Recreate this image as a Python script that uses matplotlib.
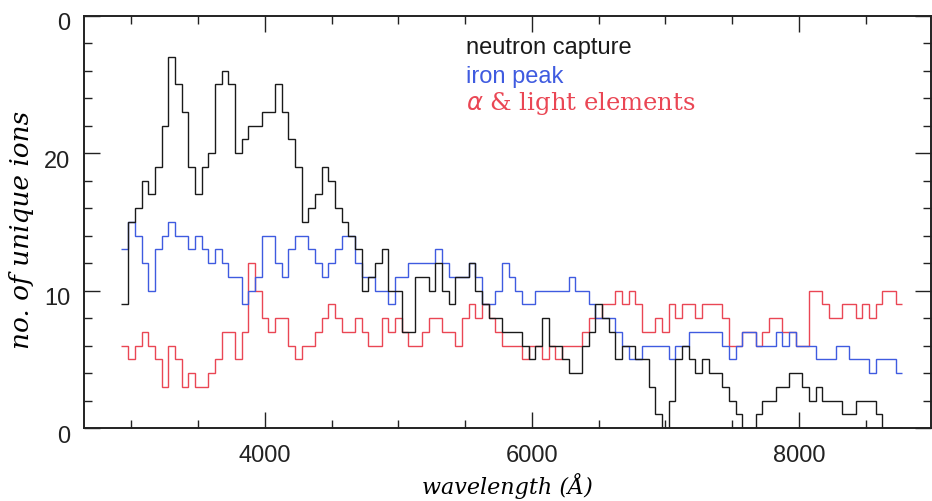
import numpy as np
import matplotlib
matplotlib.use("Agg")
import matplotlib.pyplot as plt
import matplotlib.transforms as mtransforms
from matplotlib.ticker import MultipleLocator, FixedLocator, FixedFormatter

# ---- data (50 Angstrom bins starting at 2925 A) ----
wave_start = 2925
bin_width = 50

neutron_capture = [
    9, 15, 16, 18, 17, 19, 22, 27, 25, 23, 19, 17, 19, 20, 25, 26, 25, 20, 21,
    22, 22, 23, 23, 25, 23, 21, 19, 15, 16, 17, 19, 18, 16, 15, 14, 13, 10, 11,
    12, 13, 10, 10, 7, 7, 11, 11, 10, 12, 10, 9, 11, 11, 12, 10, 9, 8, 8, 7,
    7, 7, 6, 5, 6, 8, 6, 6, 5, 4, 4, 6, 7, 9, 8, 7, 5, 6, 6,
    5, 5, 3, 1, 0, 2, 5, 6, 5, 4, 5, 4, 4, 3, 2, 1, 0, 0, 1, 2,
    2, 3, 3, 4, 4, 3, 2, 3, 2, 2, 2, 1, 1, 2, 2, 2, 1, 0, 0, 0,
]

iron_peak = [
    13, 15, 14, 12, 10, 13, 14, 15, 14, 14, 13, 14, 13, 12, 13, 12, 11, 11, 9,
    10, 11, 14, 14, 12, 11, 13, 14, 14, 13, 12, 11, 12, 13, 14, 14, 12, 11, 11,
    10, 10, 9, 11, 11, 12, 12, 12, 12, 13, 12, 11, 11, 11, 12, 11, 9, 9, 10, 12,
    11, 10, 9, 9, 10, 10, 10, 10, 10, 11, 10, 10, 9, 8, 8, 8, 7, 6, 5,
    5, 6, 6, 6, 6, 5, 6, 6, 7, 7, 7, 7, 7, 6, 5, 6, 7, 7, 6, 6,
    6, 7, 6, 7, 6, 6, 6, 5, 5, 5, 6, 6, 5, 5, 5, 4, 5, 5, 5, 4,
]

alpha_light = [
    6, 5, 6, 7, 6, 5, 3, 6, 5, 3, 4, 3, 3, 4, 5, 7, 7, 5, 7,
    12, 10, 8, 7, 8, 8, 6, 5, 6, 6, 7, 8, 9, 8, 7, 7, 8, 7, 6,
    6, 8, 7, 8, 7, 6, 6, 7, 8, 8, 7, 7, 6, 8, 9, 8, 9, 8, 7, 6,
    6, 6, 5, 6, 6, 5, 6, 5, 6, 6, 6, 7, 8, 8, 9, 9, 10, 9, 10,
    9, 7, 7, 8, 7, 9, 8, 9, 9, 8, 9, 9, 9, 8, 6, 6, 7, 7, 6, 7,
    8, 8, 7, 7, 6, 6, 10, 10, 9, 8, 8, 9, 9, 8, 9, 8, 9, 10, 10, 9,
]

series_labels = ["neutron capture", "iron peak", r"$\alpha$ & light elements"]
series_colors = ["#1a1a1a", "#3f5be0", "#ea4654"]

x_major_ticks = [4000, 6000, 8000]
y_major_ticks = [0, 10, 20, 30]
y_tick_labels = ["0", "10", "20", "0"]

edges = wave_start + bin_width * np.arange(len(neutron_capture) + 1)

fig = plt.figure(figsize=(9.32, 5.01), dpi=100)
ax = fig.add_axes([0.0901, 0.1457, 0.9088, 0.8230])

for vals, col in zip([alpha_light, iron_peak, neutron_capture], series_colors[::-1]):
    ax.stairs(vals, edges, color=col, linewidth=1.0, baseline=None)

ax.set_xlim(2644, 8989)
ax.set_ylim(0, 30)

ax.xaxis.set_major_locator(FixedLocator(x_major_ticks))
ax.xaxis.set_minor_locator(MultipleLocator(500))
ax.yaxis.set_major_locator(FixedLocator(y_major_ticks))
ax.yaxis.set_major_formatter(FixedFormatter(y_tick_labels))
ax.yaxis.set_minor_locator(MultipleLocator(2))

ax.tick_params(which="both", direction="in", top=True, right=True, colors="#222222")
ax.tick_params(which="major", length=11.5, width=1.0, labelsize=17)
ax.tick_params(axis="x", which="major", pad=12.3)
ax.tick_params(axis="y", which="major", pad=10)
ax.tick_params(which="minor", length=5.8, width=1.0)

# y tick labels sit slightly below their ticks in the reference
offset = mtransforms.ScaledTranslation(0, -6 / 100, fig.dpi_scale_trans)
for lab in ax.get_yticklabels():
    lab.set_family("Liberation Sans")
    lab.set_transform(lab.get_transform() + offset)
for lab in ax.get_xticklabels():
    lab.set_family("Liberation Sans")
for sp in ax.spines.values():
    sp.set_linewidth(1.4)
    sp.set_color("#222222")

ax.set_xlabel("wavelength (Å)", family="DejaVu Serif", style="italic", fontsize=16, labelpad=4.2)
ax.set_ylabel("no. of unique ions", family="DejaVu Serif", style="italic", fontsize=19)
ax.yaxis.set_label_coords(-0.0586, 0.48)

tx = 0.451
ax.text(tx, 0.922, series_labels[0], transform=ax.transAxes, color=series_colors[0],
        family="Liberation Sans", fontsize=17, va="center")
ax.text(tx, 0.851, series_labels[1], transform=ax.transAxes, color=series_colors[1],
        family="Liberation Sans", fontsize=17, va="center")
ax.text(tx, 0.786, series_labels[2], transform=ax.transAxes, color=series_colors[2],
        family="DejaVu Serif", fontsize=17.5, va="center")

fig.savefig("out.png", dpi=100)
